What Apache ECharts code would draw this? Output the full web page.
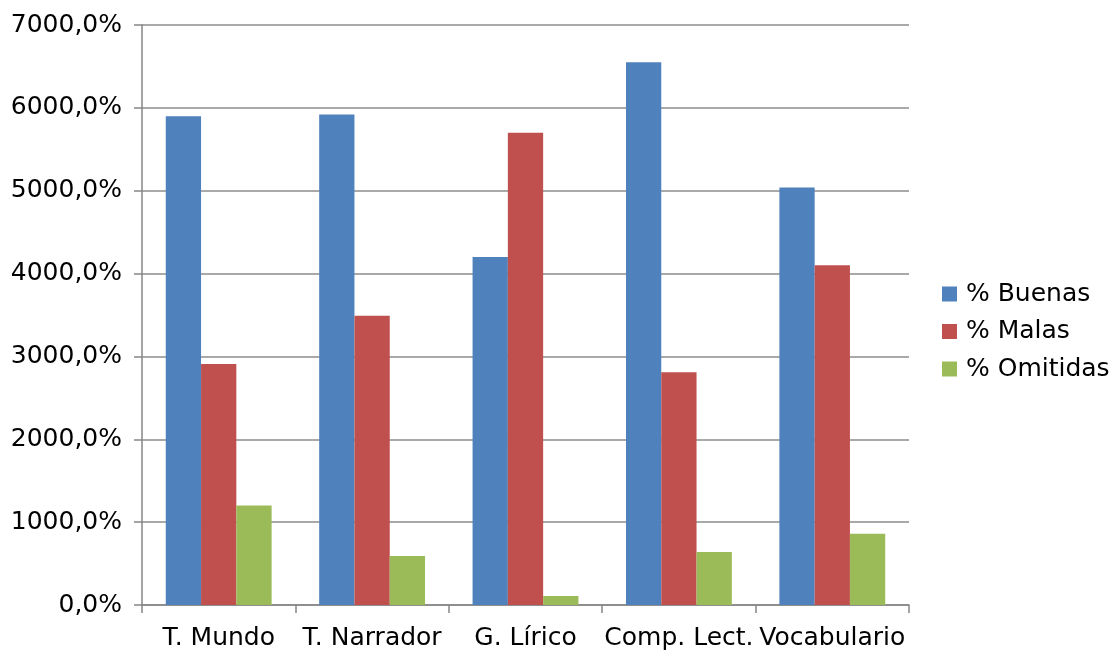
<!DOCTYPE html>
<html>
<head>
<meta charset="utf-8">
<script src="https://cdn.jsdelivr.net/npm/echarts@6/dist/echarts.min.js"></script>
<style>html,body{margin:0;padding:0;background:#fff}#c{width:1120px;height:653px}</style>
</head>
<body>
<div id="c"></div>
<script>
const categories = ['T. Mundo', 'T. Narrador', 'G. Lírico', 'Comp. Lect.', 'Vocabulario'];
const buenas = [5900, 5920, 4200, 6550, 5040];
const malas = [2910, 3490, 5700, 2810, 4100];
const omitidas = [1200, 590, 110, 640, 860];
const seriesNames = ['% Buenas', '% Malas', '% Omitidas'];
const colors = ['#4F81BD', '#C0504D', '#9BBB59'];

const font = 'DejaVu Sans';
const chart = echarts.init(document.getElementById('c'), null, {renderer: 'canvas'});
chart.setOption({
  animation: false,
  backgroundColor: '#fff',
  color: colors,
  grid: {left: 142, right: 211, top: 25, bottom: 48, containLabel: false},
  legend: {
    orient: 'vertical', left: 942, top: 280, padding: 0,
    itemWidth: 15, itemHeight: 15, itemGap: 9.5,
    icon: 'rect',
    textStyle: {fontFamily: font, fontSize: 25, color: '#000', lineHeight: 28, padding: [0, 0, 0, 4]},
    data: seriesNames
  },
  xAxis: {
    type: 'category', data: categories,
    axisLine: {lineStyle: {color: '#868686', width: 1.5}},
    axisTick: {show: true, length: 8, interval: 0, alignWithLabel: false, lineStyle: {color: '#868686', width: 1.5}},
    axisLabel: {fontFamily: font, fontSize: 25, color: '#000', margin: 21, interval: 0}
  },
  yAxis: {
    type: 'value', min: 0, max: 7000, interval: 1000,
    axisLine: {show: true, lineStyle: {color: '#868686', width: 1.5}},
    axisTick: {show: true, length: 8, lineStyle: {color: '#868686', width: 1.5}},
    splitLine: {lineStyle: {color: '#8c8c8c', width: 1.5}},
    axisLabel: {fontFamily: font, fontSize: 25, color: '#000', margin: 20,
      formatter: v => v.toFixed(1).replace('.', ',') + '%'}
  },
  series: [
    {name: seriesNames[0], type: 'bar', data: buenas, barGap: '0%', barCategoryGap: '31%'},
    {name: seriesNames[1], type: 'bar', data: malas, barGap: '0%', barCategoryGap: '31%'},
    {name: seriesNames[2], type: 'bar', data: omitidas, barGap: '0%', barCategoryGap: '31%'}
  ]
});
</script>
</body>
</html>
